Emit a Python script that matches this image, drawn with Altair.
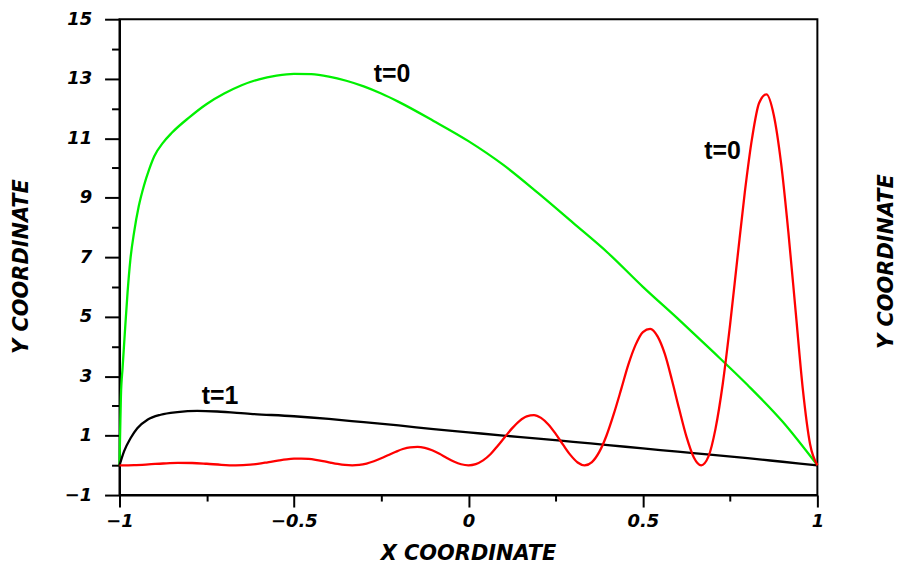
import altair as alt
import pandas as pd

# ---- data ----
green_x = [-1.0, -0.998, -0.996, -0.991, -0.985, -0.977, -0.969, -0.958, -0.945, -0.93,
           -0.915, -0.9, -0.875, -0.85, -0.8, -0.75, -0.7, -0.65, -0.6, -0.55,
           -0.5, -0.45, -0.4, -0.35, -0.3, -0.25, -0.2, -0.1, 0.0, 0.1,
           0.2, 0.3, 0.4, 0.5, 0.6, 0.7, 0.8, 0.9, 1.0]
green_y = [0.0, 1.2, 2.3, 3.3, 4.4, 5.8, 6.9, 7.85, 8.7, 9.4,
           9.95, 10.4, 10.85, 11.18, 11.7, 12.15, 12.5, 12.78, 12.98, 13.1,
           13.16, 13.15, 13.07, 12.93, 12.74, 12.5, 12.22, 11.58, 10.9, 10.1,
           9.15, 8.15, 7.14, 6.0, 4.93, 3.83, 2.7, 1.47, 0.0]

black_x = [-1.0, -0.987, -0.968, -0.949, -0.92, -0.882, -0.834, -0.777, -0.72, -0.625,
           -0.5, -0.4, -0.3, -0.2, -0.1, 0.0, 0.1, 0.2, 0.3, 0.4,
           0.5, 0.6, 0.7, 0.8, 0.9, 1.0]
black_y = [0.0, 0.47, 0.92, 1.25, 1.53, 1.70, 1.79, 1.83, 1.81, 1.73,
           1.65, 1.56, 1.45, 1.34, 1.22, 1.11, 1.0, 0.9, 0.79, 0.68,
           0.57, 0.46, 0.35, 0.24, 0.12, 0.0]

red_x = [-1.0, -0.958, -0.917, -0.875, -0.833, -0.792, -0.75, -0.708,
         -0.667, -0.646, -0.625, -0.604, -0.583, -0.563, -0.542, -0.521, -0.5, -0.479, -0.458, -0.438, -0.417, -0.396, -0.375, -0.354,
         -0.333, -0.313, -0.292, -0.271, -0.25, -0.229, -0.208, -0.188, -0.167, -0.146, -0.125, -0.104, -0.083, -0.063, -0.042, -0.021,
         0.0, 0.021, 0.042, 0.063, 0.083, 0.104, 0.125, 0.146, 0.167, 0.188, 0.208, 0.229, 0.25, 0.271, 0.292, 0.313,
         0.333, 0.354, 0.375, 0.396, 0.417, 0.438, 0.458, 0.479, 0.5, 0.521, 0.542, 0.563, 0.583, 0.604, 0.625, 0.646,
         0.667, 0.688, 0.708, 0.729, 0.75, 0.771, 0.792, 0.813, 0.833, 0.854, 0.875, 0.896, 0.917, 0.938, 0.958, 0.979, 1.0]
red_y = [0.0, 0.008, 0.032, 0.062, 0.082, 0.079, 0.053, 0.017,
         0.0, 0.005, 0.022, 0.050, 0.087, 0.128, 0.168, 0.202, 0.223, 0.228, 0.216, 0.186, 0.143, 0.094, 0.048, 0.013,
         0.0, 0.015, 0.061, 0.137, 0.236, 0.348, 0.457, 0.548, 0.607, 0.621, 0.587, 0.506, 0.389, 0.256, 0.129, 0.036,
         0.0, 0.041, 0.166, 0.372, 0.642, 0.945, 1.242, 1.490, 1.649, 1.688, 1.595, 1.375, 1.059, 0.696, 0.351, 0.097,
         0.0, 0.110, 0.451, 1.012, 1.745, 2.569, 3.376, 4.050, 4.482, 4.589, 4.335, 3.737, 2.877, 1.891, 0.955, 0.264,
         0.0, 0.299, 1.226, 2.751, 4.744, 6.982, 9.176, 11.009, 12.182, 12.475, 11.782, 10.159, 7.821, 5.140, 2.596, 0.718, 0.0]

label_text = ["t=0", "t=0", "t=1"]
label_x = [-0.219, 0.728, -0.712]
label_y = [13.17, 10.56, 2.32]

x_major = [-1, -0.5, 0, 0.5, 1]
x_minor = [-0.75, -0.25, 0.25, 0.75]
y_major = [-1, 1, 3, 5, 7, 9, 11, 13, 15]
y_minor = [0, 2, 4, 6, 8, 10, 12, 14]

series_names = ["green", "black", "red"]
series_colors = ["#00f000", "#000000", "#ff0000"]

# ---- tables ----
rows = []
for name, xs_, ys_ in [("green", green_x, green_y), ("black", black_x, black_y), ("red", red_x, red_y)]:
    for i, (a, b) in enumerate(zip(xs_, ys_)):
        rows.append({"series": name, "x": a, "y": b, "i": i})
df = pd.DataFrame(rows)
labels_df = pd.DataFrame({"text": label_text, "x": label_x, "y": label_y})
dummy = pd.DataFrame({"x": [-1.0], "y": [-1.0]})

xs = alt.Scale(domain=[-1, 1], nice=False, zero=False)
ys = alt.Scale(domain=[-1, 15], nice=False, zero=False)

LFONT = "DejaVu Sans"

lines = alt.Chart(df).mark_line(strokeWidth=2.3, interpolate="monotone").encode(
    x=alt.X("x:Q", scale=xs, axis=alt.Axis(
        orient="bottom", values=x_major, format="~g", tickSize=12, tickWidth=2, tickColor="black",
        domainWidth=2, domainColor="black", grid=False,
        labelFont=LFONT, labelFontSize=18, labelFontWeight="bold", labelFontStyle="italic",
        labelColor="black", labelPadding=6, labelFlush=False, labelOverlap=False,
        title="X COORDINATE", titleFont=LFONT, titleFontSize=21, titleFontWeight="bold",
        titleFontStyle="italic", titleColor="black", titleX=350, titleY=59,
        titleAlign="center", titleBaseline="middle")),
    y=alt.Y("y:Q", scale=ys, axis=alt.Axis(
        orient="left", values=y_major, format="~g", tickSize=15, tickWidth=2, tickColor="black",
        domainWidth=2, domainColor="black", grid=False,
        labelFont=LFONT, labelFontSize=18, labelFontWeight="bold", labelFontStyle="italic",
        labelColor="black", labelPadding=13, labelFlush=False, labelOverlap=False,
        title="Y COORDINATE", titleFont=LFONT, titleFontSize=21, titleFontWeight="bold",
        titleFontStyle="italic", titleColor="black", titleX=-98, titleY=248,
        titleAngle=270, titleAlign="center", titleBaseline="middle")),
    color=alt.Color("series:N", scale=alt.Scale(domain=series_names, range=series_colors), legend=None),
    order="i:Q",
)

minor = alt.Chart(dummy).mark_point(opacity=0).encode(
    x=alt.X("x:Q", scale=xs, axis=alt.Axis(
        orient="bottom", values=x_minor, tickSize=6, tickWidth=2, tickColor="black",
        labels=False, domain=False, grid=False, title=None)),
    y=alt.Y("y:Q", scale=ys, axis=alt.Axis(
        orient="left", values=y_minor, tickSize=8, tickWidth=2, tickColor="black",
        labels=False, domain=False, grid=False, title=None)),
)

right_title = alt.Chart(dummy).mark_point(opacity=0).encode(
    x=alt.X("x:Q", scale=xs, axis=None),
    y=alt.Y("y:Q", scale=ys, axis=alt.Axis(
        orient="right", ticks=False, labels=False, domain=False, grid=False,
        title="Y COORDINATE", titleFont=LFONT, titleFontSize=21, titleFontWeight="bold",
        titleFontStyle="italic", titleColor="black", titleX=69, titleY=243,
        titleAngle=270, titleAlign="center", titleBaseline="middle")),
)

texts = alt.Chart(labels_df).mark_text(
    font="Liberation Sans", fontSize=25, fontWeight="bold", color="black",
    align="center", baseline="middle").encode(
    x=alt.X("x:Q", scale=xs, axis=None),
    y=alt.Y("y:Q", scale=ys, axis=None),
    text="text:N",
)

chart = alt.layer(lines, minor, right_title, texts).resolve_axis(
    x="independent", y="independent"
).properties(
    width=701, height=478,
    padding={"left": 112, "top": 10, "right": 84, "bottom": 72},
    autosize=alt.AutoSizeParams(type="none"),
    background="white",
).configure_view(stroke="black", strokeWidth=2)

chart.save("out.html", embed_options={"renderer": "svg", "actions": False})
